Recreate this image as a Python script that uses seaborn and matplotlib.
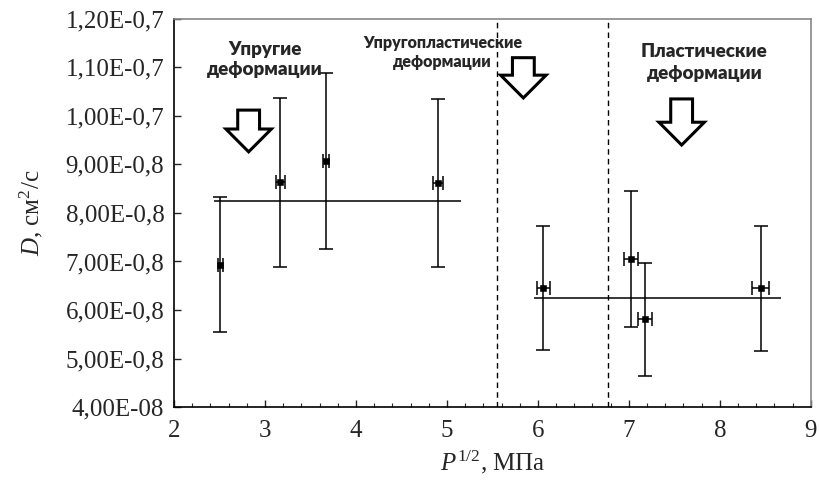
import matplotlib
matplotlib.use('Agg')
import matplotlib.pyplot as plt
import seaborn as sns
import pandas as pd
from matplotlib.patches import FancyArrow
from matplotlib.ticker import MultipleLocator

# Measured points: sqrt(P), MPa^(1/2) and D in units of 1e-8 cm^2/s
p_sqrt = [2.51, 3.17, 3.67, 4.90, 6.06, 7.02, 7.18, 8.45]
p_err = [0.03, 0.05, 0.03, 0.055, 0.07, 0.077, 0.077, 0.093]
d_vals = [6.93, 8.63, 9.07, 8.61, 6.45, 7.05, 5.81, 6.45]
d_err = [1.39, 1.74, 1.82, 1.73, 1.28, 1.40, 1.16, 1.29]

# Mean levels of D for the two regions
mean_levels = [8.25, 6.24]
mean_x_start = [2.44, 5.96]
mean_x_end = [5.16, 8.67]

# Region boundaries (dashed lines)
boundaries = [5.55, 6.77]

y_ticks = [4, 5, 6, 7, 8, 9, 10, 11, 12]
y_tick_labels = ['4,00E-08', '5,00E-0,8', '6,00E-0,8', '7,00E-0,8', '8,00E-0,8',
                 '9,00E-0,8', '1,00E-0,7', '1,10E-0,7', '1,20E-0,7']

region_labels = ['Упругие\nдеформации', 'Упругопластические\nдеформации',
                 'Пластические\nдеформации']

df = pd.DataFrame({'p': p_sqrt, 'd': d_vals, 'perr': p_err, 'derr': d_err})

sns.set_style('ticks')
plt.rcParams['font.family'] = ['Liberation Serif', 'DejaVu Serif']
plt.rcParams['mathtext.fontset'] = 'custom'
plt.rcParams['mathtext.rm'] = 'Liberation Serif'
plt.rcParams['mathtext.it'] = 'Liberation Serif:italic'

fig = plt.figure(figsize=(8.19, 4.84), dpi=100)
ax = fig.add_axes([0.2125, 0.159, 0.7775, 0.802])

# error bars
ax.errorbar(df['p'], df['d'], xerr=df['perr'], yerr=df['derr'], fmt='none',
            ecolor='black', elinewidth=1.1, capsize=5, capthick=1.1, zorder=2)
sns.scatterplot(data=df, x='p', y='d', marker='s', s=24, color='black',
                edgecolor='black', ax=ax, zorder=3)

# mean lines
for lvl, x0, x1 in zip(mean_levels, mean_x_start, mean_x_end):
    ax.hlines(lvl, x0, x1, color='black', lw=1.1, zorder=2)

# region boundaries
for b in boundaries:
    ax.axvline(b, color='black', lw=1.0, ls=(0, (4, 3)), zorder=1)

# region captions
ax.text(3.0, 11.17, region_labels[0], ha='center', va='center', family='Lato',
        weight='heavy', fontsize=13.5, linespacing=1.2)
ax.text(4.95, 11.31, region_labels[1], ha='center', va='center', family='Lato',
        weight='heavy', fontsize=11.5, linespacing=1.2)
ax.text(7.83, 11.11, region_labels[2], ha='center', va='center', family='Lato',
        weight='heavy', fontsize=13.5, linespacing=1.35)

# hollow arrows
for xc, ytop, ytip in [(2.82, 10.12, 9.26), (5.84, 11.2, 10.37), (7.58, 10.35, 9.40)]:
    ax.add_patch(FancyArrow(xc, ytop, 0, ytip - ytop, width=0.24, head_width=0.5,
                            head_length=0.47, length_includes_head=True,
                            fc='white', ec='black', lw=2.2, zorder=4))

ax.set_xlim(2, 9)
ax.set_ylim(4, 12)
ax.set_yticks(y_ticks)
ax.set_yticklabels(y_tick_labels)
ax.xaxis.set_major_locator(MultipleLocator(1))
ax.xaxis.set_minor_locator(MultipleLocator(0.2))
ax.tick_params(axis='both', which='major', direction='in', length=5, width=1,
               labelsize=18, pad=7)
ax.tick_params(axis='x', which='major', pad=9)
ax.tick_params(axis='x', which='minor', direction='in', length=3, width=0.8)

ax.set_xlabel(r'$P^{1/2}$, МПа', fontsize=18, labelpad=5)
ax.set_ylabel(r'$D$, см$^2$/с', fontsize=18, labelpad=15)

for side in ['left', 'bottom']:
    ax.spines[side].set_color('black')
    ax.spines[side].set_linewidth(1.2)
for side in ['top', 'right']:
    ax.spines[side].set_color('#888888')
    ax.spines[side].set_linewidth(1.2)

fig.savefig('out.png', dpi=100)
